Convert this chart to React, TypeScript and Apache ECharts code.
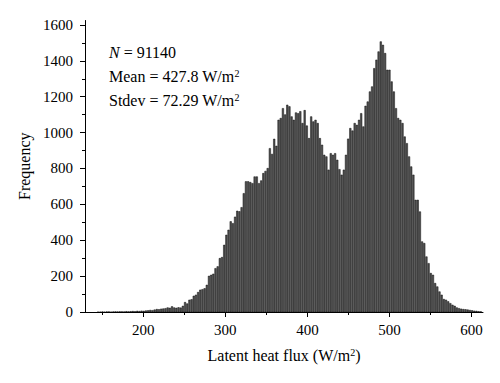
import React, { useEffect, useRef } from "react";
import * as echarts from "echarts";

// Histogram bins (W/m²)
const binStart = 143.6;
const binWidth = 2.65;
const frequencies = [
  0, 0, 1, 0, 1, 1, 0, 1, 2, 1,
  2, 2, 1, 3, 2, 3, 4, 3, 5, 4,
  6, 5, 7, 8, 10, 9, 12, 15, 14, 17,
  18, 20, 24, 22, 30, 24, 22, 25, 23, 33,
  54, 46, 67, 70, 89, 95, 110, 123, 126, 131,
  150, 200, 206, 212, 243, 253, 299, 305, 373, 429,
  457, 504, 494, 530, 563, 560, 583, 661, 727, 727,
  723, 717, 754, 754, 717, 732, 773, 785, 801, 912,
  880, 964, 925, 1070, 1080, 1135, 1100, 1154, 1145, 1089,
  1070, 1111, 1107, 1118, 1052, 1124, 1038, 968, 1089, 1061,
  1070, 1052, 968, 931, 875, 866, 792, 884, 875, 884,
  847, 795, 764, 792, 875, 965, 1024, 1010, 1052, 1042,
  1070, 1107, 1033, 1148, 1172, 1228, 1256, 1358, 1405, 1451,
  1507, 1488, 1442, 1349, 1349, 1284, 1228, 1135, 1080, 1070,
  1052, 977, 940, 866, 810, 764, 624, 624, 559, 392,
  383, 308, 271, 216, 206, 160, 141, 113, 95, 71,
  67, 58, 48, 39, 33, 24, 20, 17, 15, 14,
  12, 10, 8, 6, 5, 3, 2,
];

const xMajorTicks = [200, 300, 400, 500, 600];
const xMinorTicks = [150, 250, 350, 450, 550];
const yMajorTicks = [0, 200, 400, 600, 800, 1000, 1200, 1400, 1600];
const yMinorTicks = [100, 300, 500, 700, 900, 1100, 1300, 1500];

const statLines = [
  "{i|N} = 91140",
  "Mean = 427.8 W/m{s|2}",
  "Stdev = 72.29 W/m{s|2}",
];

const FONT = "'Liberation Serif', 'DejaVu Serif', serif";

export default function App() {
  const ref = useRef<HTMLDivElement>(null);

  useEffect(() => {
    if (!ref.current) return;
    const chart = echarts.init(ref.current, undefined, { renderer: "svg" });

    const data = frequencies.map((v, i) => [
      binStart + i * binWidth,
      binStart + (i + 1) * binWidth,
      v,
    ]);

    const axisLineStyle = { lineStyle: { color: "#000", width: 1 } };

    chart.setOption({
      animation: false,
      backgroundColor: "#fff",
      grid: { left: 85, right: 17, top: 20.5, bottom: 71, containLabel: false },
      xAxis: [
        {
          type: "value",
          min: 129,
          max: 614,
          axisLine: axisLineStyle,
          axisTick: {
            show: true,
            length: 5,
            customValues: xMajorTicks,
            lineStyle: { color: "#000" },
          },
          axisLabel: {
            customValues: xMajorTicks,
            formatter: (v: number) => String(v),
            fontFamily: FONT,
            fontSize: 15,
            color: "#000",
            margin: 10,
          },
          splitLine: { show: false },
          name: "Latent heat flux (W/m{s|2})",
          nameLocation: "middle",
          nameGap: 35,
          nameTextStyle: {
            fontFamily: FONT,
            fontSize: 16,
            color: "#000",
            rich: {
              s: { fontFamily: FONT, fontSize: 10, color: "#000", verticalAlign: "top" },
            },
          },
        },
        {
          type: "value",
          min: 129,
          max: 614,
          position: "bottom",
          axisLine: { show: false },
          axisTick: {
            show: true,
            length: 3,
            customValues: xMinorTicks,
            lineStyle: { color: "#000" },
          },
          axisLabel: { show: false },
          splitLine: { show: false },
        },
      ],
      yAxis: [
        {
          type: "value",
          min: 0,
          max: 1625,
          position: "left",
          axisLine: { show: true, ...axisLineStyle },
          axisTick: {
            show: true,
            length: 5,
            customValues: yMajorTicks,
            lineStyle: { color: "#000" },
          },
          axisLabel: {
            customValues: yMajorTicks,
            formatter: (v: number) => String(v),
            fontFamily: FONT,
            fontSize: 15,
            color: "#000",
            margin: 12,
          },
          splitLine: { show: false },
          name: "Frequency",
          nameLocation: "middle",
          nameGap: 44,
          nameTextStyle: { fontFamily: FONT, fontSize: 16, color: "#000" },
        },
        {
          type: "value",
          min: 0,
          max: 1625,
          position: "left",
          axisLine: { show: false },
          axisTick: {
            show: true,
            length: 3,
            customValues: yMinorTicks,
            lineStyle: { color: "#000" },
          },
          axisLabel: { show: false },
          splitLine: { show: false },
        },
      ],
      series: [
        {
          type: "custom",
          xAxisIndex: 0,
          yAxisIndex: 0,
          clip: true,
          encode: { x: [0, 1], y: 2 },
          data,
          renderItem: (params: any, api: any) => {
            const x0 = api.value(0);
            const x1 = api.value(1);
            const h = api.value(2);
            const pTop = api.coord([x0, h]);
            const pBot = api.coord([x1, 0]);
            const w = pBot[0] - pTop[0];
            return {
              type: "rect",
              shape: {
                x: pTop[0] + 0.3,
                y: pTop[1],
                width: w - 0.6,
                height: pBot[1] - pTop[1],
              },
              style: { fill: "#4f4f4f", stroke: "#111", lineWidth: 0.5 },
            };
          },
        },
      ],
      graphic: statLines.map((t, i) => ({
        type: "text",
        x: 109,
        y: 52 + i * 24,
        style: {
          text: t,
          fill: "#000",
          fontFamily: FONT,
          fontSize: 16,
          verticalAlign: "middle",
          rich: {
            i: { fontFamily: FONT, fontSize: 16, fontStyle: "italic", fill: "#000" },
            s: { fontFamily: FONT, fontSize: 10, fill: "#000", verticalAlign: "top" },
          },
        },
      })),
    });

    return () => chart.dispose();
  }, []);

  return (
    <div
      ref={ref}
      style={{ position: "fixed", left: 0, top: 0, width: 500, height: 383, background: "#fff" }}
    />
  );
}
